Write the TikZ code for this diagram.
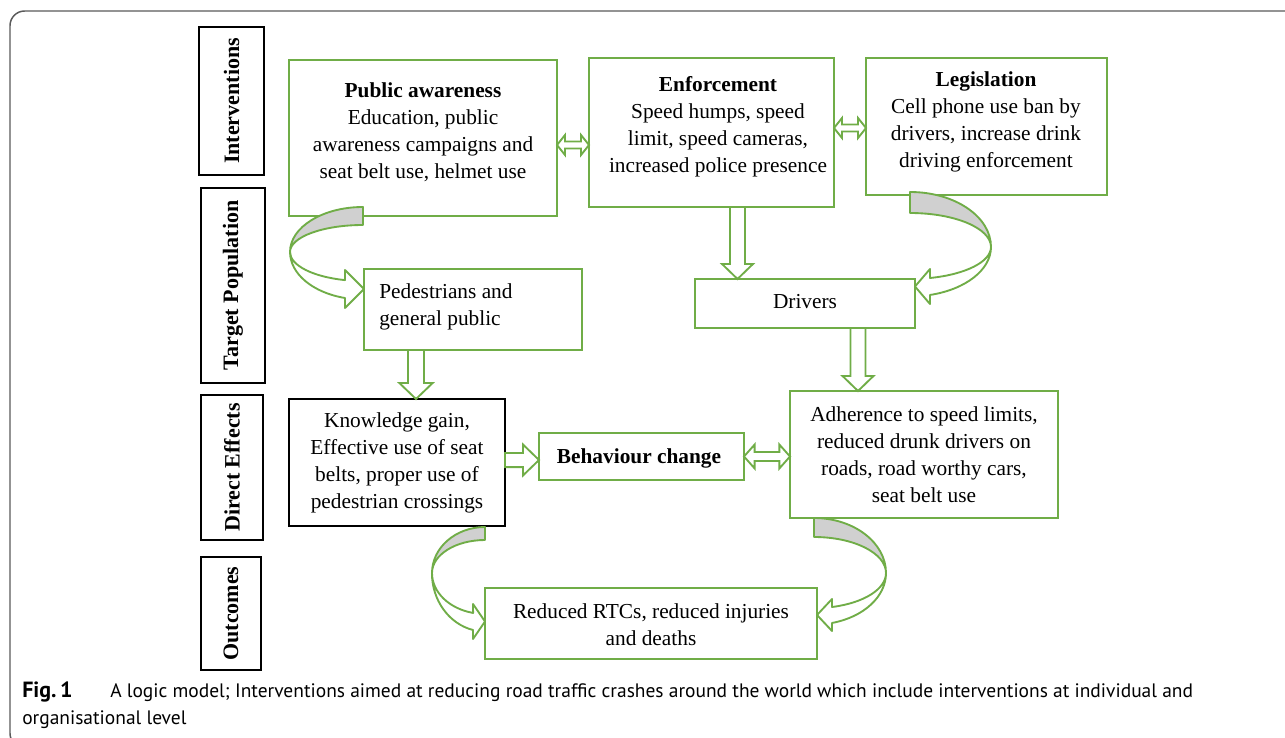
\documentclass[tikz,border=0pt]{standalone}
\usepackage{fontspec}
\setmainfont{Liberation Serif}
\newfontfamily\capfont{PT Sans}
\usetikzlibrary{calc}
\definecolor{grn}{HTML}{70AD47}
\definecolor{frm}{HTML}{5A5A5A}
\definecolor{band}{HTML}{D0D0D0}
\tikzset{
  gbox/.style={draw=grn, line width=1.5pt, inner sep=0pt, outer sep=0pt, fill=white},
  kbox/.style={draw=black, line width=1.5pt, inner sep=0pt, outer sep=0pt, fill=white},
  txt/.style={font=\fontsize{16}{20.25}\selectfont, align=center, inner sep=0pt},
  side/.style={kbox, font=\fontsize{16.5}{19}\selectfont\bfseries, rotate=90},
  hollow/.style={draw=grn, line width=1.4pt, fill=white, line join=miter},
  curv/.style={draw=grn, line width=1.4pt, line join=round},
  captxt/.style={anchor=base west, inner sep=0pt, font=\capfont\fontsize{14.6}{17}\selectfont},
}
% vertical hollow arrow: x of #1, from y of #1 down to y of #2; #3 shaft half, #4 head half, #5 head length
\newcommand\ArrowDn[5]{\draw[hollow] let \p1=#1, \p2=#2 in
  (\x1-#3,\y1) -- (\x1-#3,\y2+#5) -- (\x1-#4,\y2+#5) -- (\x1,\y2) -- (\x1+#4,\y2+#5)
  -- (\x1+#3,\y2+#5) -- (\x1+#3,\y1) -- cycle;}
\newcommand\ArrowRt[5]{\draw[hollow] let \p1=#1, \p2=#2 in
  (\x1,\y1-#3) -- (\x2-#5,\y1-#3) -- (\x2-#5,\y1-#4) -- (\x2,\y1) -- (\x2-#5,\y1+#4)
  -- (\x2-#5,\y1+#3) -- (\x1,\y1+#3) -- cycle;}
\newcommand\ArrowLR[5]{\draw[hollow] let \p1=#1, \p2=#2 in
  (\x1,\y1) -- (\x1+#5,\y1+#4) -- (\x1+#5,\y1+#3) -- (\x2-#5,\y1+#3) -- (\x2-#5,\y1+#4)
  -- (\x2,\y1) -- (\x2-#5,\y1-#4) -- (\x2-#5,\y1-#3) -- (\x1+#5,\y1-#3) -- (\x1+#5,\y1-#4) -- cycle;}
\begin{document}
\begin{tikzpicture}[x=0.75pt,y=-0.75pt]
\useasboundingbox (0,0) rectangle (1285,738);
\clip (0,0) rectangle (1285,738);
\fill[white] (0,0) rectangle (1285,738);
\draw[frm, line width=1.1pt, rounded corners=11pt] (10,11) rectangle (1300,748);

% side labels
\node[side, minimum width=111pt, minimum height=48.75pt] (int) at (231.5,101) {Interventions};
\node[side, minimum width=146.25pt, minimum height=48pt] (tp) at (233,285.5) {Target Population};
\node[side, minimum width=108.75pt, minimum height=46.5pt] (de) at (232,467.5) {Direct Effects};
\node[side, minimum width=84.75pt, minimum height=45pt] (oc) at (231,613.5) {Outcomes};

% boxes
\node[gbox, minimum width=201pt, minimum height=117pt] (pa) at (423,138) {};
\node[gbox, minimum width=183.75pt, minimum height=111.75pt] (enf) at (711.5,132.5) {};
\node[gbox, minimum width=180.75pt, minimum height=102.75pt] (leg) at (986.5,126.5) {};
\node[gbox, minimum width=163.5pt, minimum height=60.75pt] (ped) at (473,309.5) {};
\node[gbox, minimum width=165pt, minimum height=36.75pt] (drv) at (805,303.5) {};
\node[kbox, minimum width=162pt, minimum height=95.25pt] (knw) at (397,462.5) {};
\node[gbox, minimum width=153.75pt, minimum height=35.25pt] (beh) at (641.5,456.5) {};
\node[gbox, minimum width=201pt, minimum height=95.25pt] (adh) at (924,454.5) {};
\node[gbox, minimum width=249pt, minimum height=53.25pt] (out) at (651,623.5) {};

% straight hollow arrows
\ArrowLR{($(pa.east)+(0,7)$)}{(enf.west)}{2.6pt}{7.5pt}{6pt}
\ArrowLR{($(enf.east)+(0,-4.5)$)}{(leg.west)}{2.6pt}{7.5pt}{6pt}
\ArrowLR{(beh.east)}{(adh.west)}{3.4pt}{9pt}{8pt}
\ArrowDn{($(enf.south)+(26,0)$)}{(drv.north)}{5.6pt}{11.6pt}{11.25pt}
\ArrowDn{($(ped.south)+(-57,0)$)}{(knw.north)}{6pt}{12.5pt}{12pt}
\ArrowDn{($(drv.south)+(53,0)$)}{(adh.north)}{5.6pt}{11.6pt}{11.25pt}
\ArrowRt{($(knw.east)+(0,-2.5)$)}{(beh.west)}{5.3pt}{11.6pt}{12pt}

% curved arrows: top-left (public awareness -> pedestrians)
\filldraw[curv, fill=band] (363,207) arc[start angle=270, end angle=180, x radius=73, y radius=45]
  arc[start angle=180, end angle=270, x radius=73, y radius=27] -- cycle;
\filldraw[curv, fill=white] (290,252) arc[start angle=180, end angle=104.3, x radius=73, y radius=29]
  -- (345,270) -- (ped.west |- 0,289) -- (345,308) -- (345,298)
  arc[start angle=104.3, end angle=180, x radius=73, y radius=47.5] -- cycle;
% top-right (legislation -> drivers)
\filldraw[curv, fill=band] (910,192) arc[start angle=270, end angle=360, x radius=81, y radius=55]
  arc[start angle=0, end angle=-90, x radius=81, y radius=34] -- cycle;
\filldraw[curv, fill=white] (991,247) arc[start angle=0, end angle=75.7, x radius=81, y radius=49.5]
  -- (930,304) -- (drv.east |- 0,286.5) -- (930,269) -- (930,278)
  arc[start angle=75.7, end angle=0, x radius=81, y radius=32] -- cycle;
% bottom-left (knowledge -> outcomes)
\filldraw[curv, fill=band] (485,527) arc[start angle=270, end angle=180, x radius=53, y radius=46]
  arc[start angle=180, end angle=270, x radius=53, y radius=33] -- cycle;
\filldraw[curv, fill=white] (432,573) arc[start angle=180, end angle=103, x radius=53, y radius=41]
  -- (473,604) -- (out.west |- 0,621.5) -- (473,639) -- (473,630)
  arc[start angle=103, end angle=180, x radius=53, y radius=58.5] -- cycle;
% bottom-right (adherence -> outcomes)
\filldraw[curv, fill=band] (814,518) arc[start angle=270, end angle=360, x radius=72, y radius=55]
  arc[start angle=0, end angle=-90, x radius=72, y radius=36] -- cycle;
\filldraw[curv, fill=white] (886,573) arc[start angle=0, end angle=75.5, x radius=72, y radius=51.6]
  -- (832,631) -- (out.east |- 0,615) -- (832,599) -- (832,607)
  arc[start angle=75.5, end angle=0, x radius=72, y radius=35] -- cycle;

% texts
\node[txt] (pat) at (423,132.5) {\textbf{Public awareness}\\Education, public\\awareness campaigns and\\seat belt use, helmet use};
\node[txt] (enft) at (718,126.5) {\textbf{Enforcement}\\Speed humps, speed\\limit, speed cameras,\\increased police presence};
\node[txt] (legt) at (986,121.5) {\textbf{Legislation}\\Cell phone use ban by\\drivers, increase drink\\driving enforcement};
\node[txt, align=left, anchor=west] (pedt) at (379,306.5) {Pedestrians and\\general public};
\node[txt] (drvt) at (805,301.5) {Drivers};
\node[txt] (knwt) at (397,463) {Knowledge gain,\\Effective use of seat\\belts, proper use of\\pedestrian crossings};
\node[txt] (beht) at (639,458) {\textbf{Behaviour change}};
\node[txt] (adht) at (924,454.5) {Adherence to speed limits,\\reduced drunk drivers on\\roads, road worthy cars,\\seat belt use};
\node[txt] (outt) at (651,625) {Reduced RTCs, reduced injuries\\and deaths};

% caption
\node[captxt] (cap1) at (22,697)
  {\makebox[66pt][l]{\fontsize{16.5}{17}\selectfont\textbf{Fig.\,1}}A logic model; Interventions aimed at reducing road traffic crashes around the world which include interventions at individual and};
\node[captxt] (cap2) at (22,724) {organisational level};
\end{tikzpicture}
\end{document}
